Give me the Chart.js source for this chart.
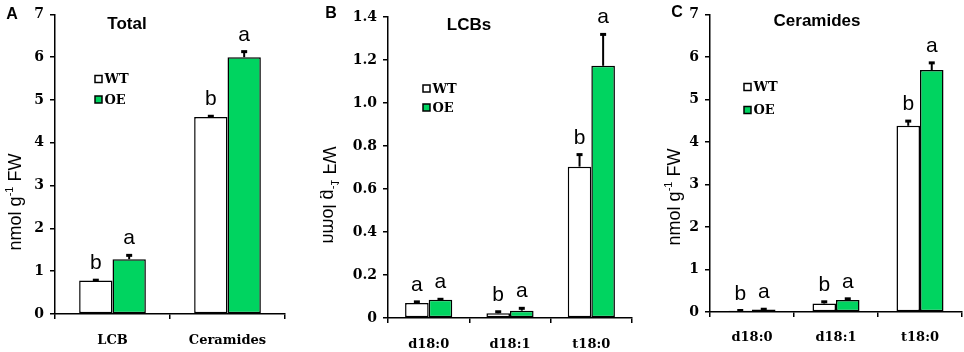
<!DOCTYPE html>
<html>
<head>
<meta charset="utf-8">
<script src="https://cdn.jsdelivr.net/npm/chart.js@4.4.1/dist/chart.umd.min.js"></script>
<style>
  html, body { margin: 0; padding: 0; background: #fff; }
  #wrap { position: relative; width: 964px; height: 352px; overflow: hidden; }
  .panel { position: absolute; top: 0; height: 352px; }
</style>
</head>
<body>
<div id="wrap">
  <div class="panel" style="left:0;width:300px"><canvas id="chartA"></canvas></div>
  <div class="panel" style="left:320px;width:320px"><canvas id="chartB"></canvas></div>
  <div class="panel" style="left:640px;width:324px"><canvas id="chartC"></canvas></div>
</div>
<script>
/* ── data ── */
const totalCats     = ['LCB', 'Ceramides'];
const totalWT       = [0.78, 4.6];
const totalWTErr    = [0.01, 0.02];
const totalOE       = [1.28, 6.0];
const totalOEErr    = [0.09, 0.13];
const totalWTLetter = ['b', 'b'];
const totalOELetter = ['a', 'a'];

const lcbCats     = ['d18:0', 'd18:1', 't18:0'];
const lcbWT       = [0.07, 0.022, 0.704];
const lcbWTErr    = [0.005, 0.007, 0.056];
const lcbOE       = [0.085, 0.034, 1.173];
const lcbOEErr    = [0.002, 0.011, 0.146];
const lcbWTLetter = ['a', 'b', 'b'];
const lcbOELetter = ['a', 'a', 'a'];

const cerCats     = ['d18:0', 'd18:1', 't18:0'];
const cerWT       = [0.03, 0.2, 4.38];
const cerWTErr    = [0.005, 0.04, 0.11];
const cerOE       = [0.06, 0.28, 5.69];
const cerOEErr    = [0.005, 0.03, 0.17];
const cerWTLetter = ['b', 'b', 'b'];
const cerOELetter = ['a', 'a', 'a'];

const seriesNames = ['WT', 'OE'];
const GREEN = '#00d460';
const SERIF = '"DejaVu Serif", serif';
const SANS  = '"Liberation Sans", Arial, sans-serif';

// error bars, significance letters, legend, titles
const decor = {
  id: 'decor',
  afterDatasetsDraw(chart, args, opts) {
    const ctx = chart.ctx;
    const y = chart.scales.y;
    ctx.save();
    chart.data.datasets.forEach((ds, i) => {
      const meta = chart.getDatasetMeta(i);
      meta.data.forEach((bar, j) => {
        const top = y.getPixelForValue(ds.data[j] + ds.err[j]);
        ctx.strokeStyle = '#000';
        ctx.lineWidth = 2;
        ctx.beginPath();
        ctx.moveTo(bar.x, bar.y);
        ctx.lineTo(bar.x, top);
        ctx.stroke();
        ctx.lineWidth = 3;
        ctx.beginPath();
        ctx.moveTo(bar.x - 3, top);
        ctx.lineTo(bar.x + 3, top);
        ctx.stroke();
        ctx.fillStyle = '#000';
        ctx.font = '21px ' + SANS;
        ctx.textAlign = 'center';
        ctx.textBaseline = 'alphabetic';
        ctx.fillText(ds.letters[j], bar.x, top - 11);
      });
    });
    ctx.restore();
  },
  afterDraw(chart, args, opts) {
    const ctx = chart.ctx;
    ctx.save();
    ctx.fillStyle = '#000';
    ctx.textAlign = 'center';
    ctx.textBaseline = 'middle';
    // panel letter
    ctx.font = 'bold 16px ' + SANS;
    ctx.fillText(opts.panel, opts.panelX, opts.panelY);
    // panel title
    ctx.font = 'bold 17px ' + SANS;
    ctx.fillText(opts.title, opts.titleX, opts.titleY);
    // legend
    chart.data.datasets.forEach((ds, i) => {
      const cx = opts.legX, cy = opts.legY + i * opts.legGap;
      ctx.fillStyle = ds.backgroundColor;
      ctx.fillRect(cx - 3.5, cy - 3.5, 7, 7);
      ctx.strokeStyle = '#000';
      ctx.lineWidth = 1.5;
      ctx.strokeRect(cx - 3.5, cy - 3.5, 7, 7);
      ctx.fillStyle = '#000';
      ctx.font = 'bold 13px ' + SERIF;
      ctx.textAlign = 'left';
      ctx.fillText(ds.label, cx + 6, cy + 1);
    });
    // y axis title: nmol g-1 FW
    ctx.translate(opts.yTitleX, opts.yTitleY);
    ctx.rotate(-Math.PI / 2);
    if (opts.mirror) ctx.scale(1, -1);
    const f1 = '18px ' + SANS, f2 = '11px ' + SANS;
    ctx.font = f1;
    const a = 'nmol g', c = ' FW';
    const wa = ctx.measureText(a).width, wc = ctx.measureText(c).width;
    ctx.font = f2;
    const sup = '-1';
    const wb = ctx.measureText(sup).width;
    let x = -(wa + wb + wc) / 2;
    ctx.textAlign = 'left';
    ctx.textBaseline = 'alphabetic';
    ctx.font = f1;
    ctx.fillText(a, x, 6);
    ctx.font = f2;
    ctx.fillText(sup, x + wa, -2);
    ctx.font = f1;
    ctx.fillText(c, x + wa + wb, 6);
    ctx.restore();
  }
};

function makePanel(id, cats, wt, wtErr, wtLet, oe, oeErr, oeLet, yMax, yStep, box, deco) {
  return new Chart(document.getElementById(id), {
    type: 'bar',
    data: {
      labels: cats,
      datasets: [
        { label: seriesNames[0], data: wt, err: wtErr, letters: wtLet,
          backgroundColor: '#ffffff', borderColor: '#000', borderWidth: 1.5, borderSkipped: false },
        { label: seriesNames[1], data: oe, err: oeErr, letters: oeLet,
          backgroundColor: GREEN, borderColor: '#000', borderWidth: 1.5, borderSkipped: false }
      ]
    },
    options: {
      responsive: true,
      maintainAspectRatio: false,
      animation: false,
      layout: { padding: { left: 0, top: box.top, right: box.right, bottom: 0 } },
      datasets: { bar: { categoryPercentage: box.cat, barPercentage: 1.0 } },
      plugins: {
        legend: { display: false },
        tooltip: { enabled: false },
        decor: deco
      },
      scales: {
        x: {
          grid: { display: true, drawOnChartArea: false, offset: true, tickLength: 5, color: '#000', lineWidth: 1.5 },
          border: { display: true, color: '#000', width: 1.5 },
          ticks: { color: '#000', padding: box.xPad, font: { family: SERIF, size: 13, weight: 'bold' } },
          afterFit: (s) => { s.height = box.xH; }
        },
        y: {
          min: 0, max: yMax,
          grid: { display: true, drawOnChartArea: false, tickLength: 5, color: '#000', lineWidth: 1.5 },
          border: { display: true, color: '#000', width: 1.5 },
          ticks: { stepSize: yStep, color: '#000', padding: 6, font: { family: SERIF, size: 14, weight: 'bold' } },
          afterFit: (s) => { s.width = box.yW; }
        }
      }
    },
    plugins: [decor]
  });
}

makePanel('chartA', totalCats, totalWT, totalWTErr, totalWTLetter, totalOE, totalOEErr, totalOELetter, 7, 1,
  { top: 14, right: 15, xH: 38, yW: 55, xPad: 14, cat: 0.58 },
  { panel: 'A', panelX: 12, panelY: 15, title: 'Total', titleX: 127, titleY: 24,
    legX: 98.5, legY: 79, legGap: 20.5, yTitleX: 15, yTitleY: 202, mirror: false });

makePanel('chartB', lcbCats, lcbWT, lcbWTErr, lcbWTLetter, lcbOE, lcbOEErr, lcbOELetter, 1.4, 0.2,
  { top: 17, right: 8, xH: 34, yW: 68, xPad: 14, cat: 0.58 },
  { panel: 'B', panelX: 11, panelY: 14, title: 'LCBs', titleX: 149, titleY: 25,
    legX: 106.5, legY: 88.5, legGap: 19, yTitleX: 9, yTitleY: 195, mirror: true });

makePanel('chartC', cerCats, cerWT, cerWTErr, cerWTLetter, cerOE, cerOEErr, cerOELetter, 7, 1,
  { top: 7, right: 2, xH: 40, yW: 70, xPad: 13, cat: 0.56 },
  { panel: 'C', panelX: 37, panelY: 13, title: 'Ceramides', titleX: 177, titleY: 21,
    legX: 107.5, legY: 87, legGap: 23, yTitleX: 34, yTitleY: 197, mirror: false });
</script>
</body>
</html>
